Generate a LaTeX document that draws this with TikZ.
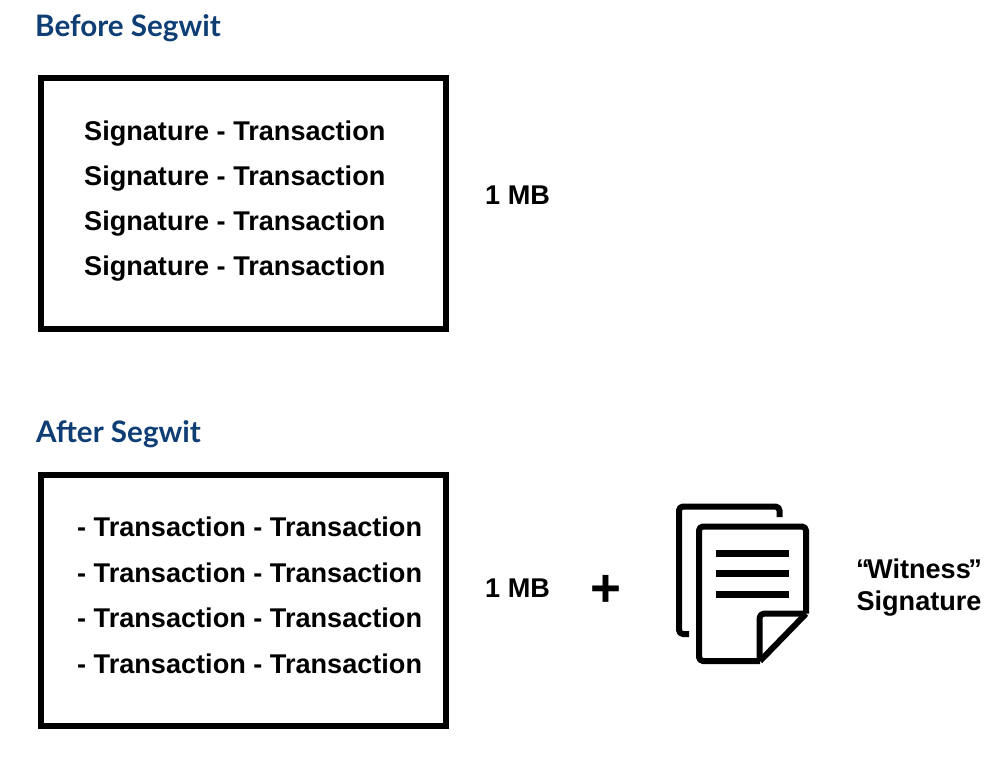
\documentclass[tikz,border=0pt]{standalone}
\usepackage{fontspec}
\setmainfont{Liberation Sans}
\newfontfamily\headfont{Lato}
\definecolor{headblue}{HTML}{0F3E75}
\tikzset{
  x=1pt,y=-1pt,
  framebox/.style={draw=black,line width=5.6pt,fill=white,sharp corners},
  rowtext/.style={font=\fontsize{27.1}{32}\selectfont\bfseries,anchor=base west,inner sep=0pt,text=black},
  heading/.style={font=\headfont\fontsize{29.6}{32}\selectfont\bfseries,text=headblue,anchor=base west,inner sep=0pt},
  iconline/.style={draw=black,line width=6pt,line join=round},
  textline/.style={draw=black,line width=7pt}
}
\begin{document}
\begin{tikzpicture}
\useasboundingbox (0,0) rectangle (1000,756);
\node[heading] (h1) at (35,36) {Before Segwit};
\node[heading] (h2) at (36,442) {After Segwit};
\node[framebox,minimum width=405.4pt,minimum height=251.4pt,anchor=north west] (b1) at (38,75) {};
\node[framebox,minimum width=405.4pt,minimum height=251.4pt,anchor=north west] (b2) at (38,472) {};
\node[rowtext] (a1) at (84,140.5) {Signature - Transaction};
\node[rowtext] (a2) at (84,185.5) {Signature - Transaction};
\node[rowtext] (a3) at (84,230.5) {Signature - Transaction};
\node[rowtext] (a4) at (84,275.5) {Signature - Transaction};
\node[rowtext] (c1) at (77,536.5) {- Transaction - Transaction};
\node[rowtext] (c2) at (77,582.5) {- Transaction - Transaction};
\node[rowtext] (c3) at (77,627.5) {- Transaction - Transaction};
\node[rowtext] (c4) at (77,673.5) {- Transaction - Transaction};
\node[rowtext] (m1) at (485,204.5) {1 MB};
\node[rowtext] (m2) at (485,597.5) {1 MB};
\node[font=\fontsize{53}{56}\selectfont\bfseries,inner sep=0pt] (plus) at (605.5,591) {+};
\draw[iconline,rounded corners=4pt] (689,634) -- (679,634) -- (679,506.5) -- (779.5,506.5) -- (779.5,517);
\draw[iconline,rounded corners=4pt] (760,661) -- (699,661) -- (699,526.5) -- (806,526.5) -- (806,613.7);
\draw[iconline] (806,613.7) -- (760,661);
\draw[iconline,rounded corners=4pt] (806,613.7) -- (759.7,613.7) -- (759.7,661);
\draw[textline] (715.7,553.7) -- (789.3,553.7);
\draw[textline] (715.7,573.8) -- (789.3,573.8);
\draw[textline] (715.7,594) -- (789.3,594);
\node[rowtext,anchor=base] (w1) at (919,578) {“\kern-2.5pt Witness\kern-2.5pt ”};
\node[rowtext,anchor=base] (w2) at (919,610) {Signature};
\end{tikzpicture}
\end{document}
